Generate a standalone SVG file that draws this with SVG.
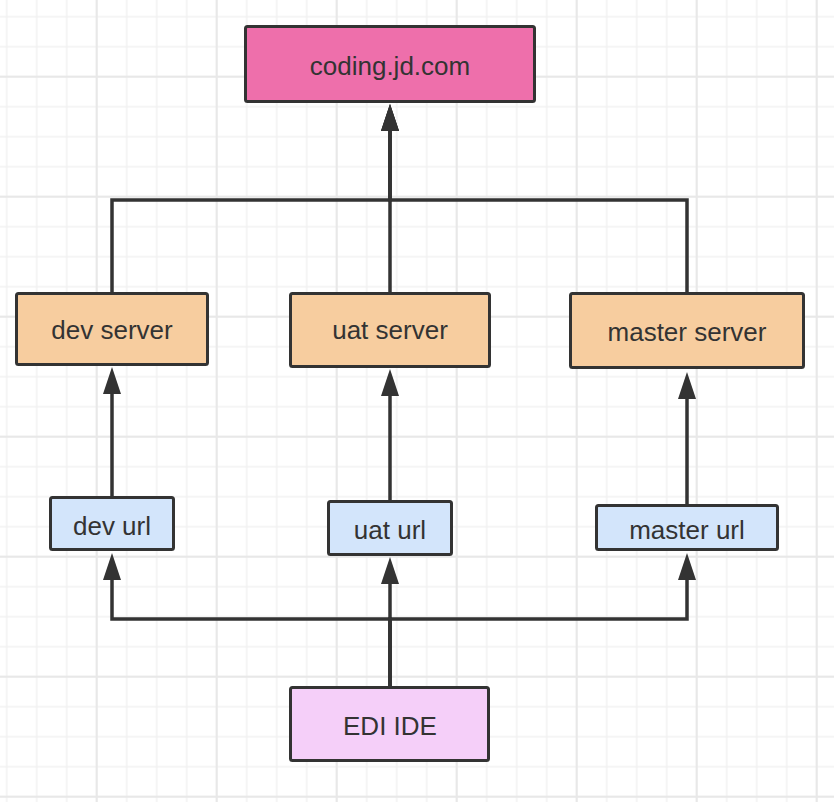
<svg xmlns="http://www.w3.org/2000/svg" width="834" height="802" viewBox="0 0 834 802">
  <style>
    .box { stroke: #333333; stroke-width: 3; }
    .lbl { font-family: "Liberation Sans", Arial, Helvetica, sans-serif; font-size: 26px; fill: #333333; text-anchor: middle; }
    .edge { fill: none; stroke: #333333; stroke-width: 3.5; stroke-linejoin: miter; }
    .c-top { fill: #ee6fab; }
    .c-srv { fill: #f7cd9f; }
    .c-url { fill: #d3e5fb; }
    .c-ide { fill: #f5cff9; }
  </style>
  <defs>
    <pattern id="gridMinor" patternUnits="userSpaceOnUse" x="-8.3" y="1.7" width="30" height="30">
      <path d="M15,0 V30 M0,15 H30" stroke="#f2f2f2" stroke-width="1.5" fill="none"/>
    </pattern>
    <pattern id="gridMajor" patternUnits="userSpaceOnUse" x="36.7" y="16.7" width="120" height="120">
      <path d="M60,0 V120 M0,60 H120" stroke="#e8e8e8" stroke-width="2" fill="none"/>
    </pattern>
    <marker id="arrow" markerUnits="userSpaceOnUse" markerWidth="27" markerHeight="18" refX="0" refY="9" orient="auto" viewBox="0 0 27 18">
      <path d="M0,0 L27,9 L0,18 Z" fill="#333333"/>
    </marker>
  </defs>

  <rect x="0" y="0" width="834" height="802" fill="#ffffff"/>
  <rect x="0" y="0" width="834" height="802" fill="url(#gridMinor)"/>
  <rect x="0" y="0" width="834" height="802" fill="url(#gridMajor)"/>

  <g id="connectors">
    <path class="edge" d="M112,292 V200 H390 V131" marker-end="url(#arrow)"/>
    <path class="edge" d="M390,292 V131" marker-end="url(#arrow)"/>
    <path class="edge" d="M687,292 V200 H390 V131" marker-end="url(#arrow)"/>
    <path class="edge" d="M112,496 V394" marker-end="url(#arrow)"/>
    <path class="edge" d="M390,500 V396" marker-end="url(#arrow)"/>
    <path class="edge" d="M687,504 V399" marker-end="url(#arrow)"/>
    <path class="edge" d="M390,686 V619 H112 V580" marker-end="url(#arrow)"/>
    <path class="edge" d="M390,686 V584" marker-end="url(#arrow)"/>
    <path class="edge" d="M390,686 V619 H687 V580" marker-end="url(#arrow)"/>
  </g>

  <g id="coding">
    <rect class="box c-top" x="245.5" y="26.5" width="289" height="75" rx="2"/>
    <text class="lbl" x="390" y="75">coding.jd.com</text>
  </g>
  <g id="dev-server">
    <rect class="box c-srv" x="16.5" y="293.5" width="191" height="71" rx="2"/>
    <text class="lbl" x="112" y="339">dev server</text>
  </g>
  <g id="uat-server">
    <rect class="box c-srv" x="290.5" y="293.5" width="199" height="73" rx="2"/>
    <text class="lbl" x="390" y="339">uat server</text>
  </g>
  <g id="master-server">
    <rect class="box c-srv" x="570.5" y="293.5" width="233" height="74" rx="2"/>
    <text class="lbl" x="687" y="341">master server</text>
  </g>
  <g id="dev-url">
    <rect class="box c-url" x="50.5" y="497.5" width="123" height="52" rx="2"/>
    <text class="lbl" x="112" y="535">dev url</text>
  </g>
  <g id="uat-url">
    <rect class="box c-url" x="328.5" y="501.5" width="123" height="53" rx="2"/>
    <text class="lbl" x="390" y="539">uat url</text>
  </g>
  <g id="master-url">
    <rect class="box c-url" x="596.5" y="505.5" width="181" height="44" rx="2"/>
    <text class="lbl" x="687" y="539">master url</text>
  </g>
  <g id="edi-ide">
    <rect class="box c-ide" x="290.5" y="687.5" width="198" height="73" rx="2"/>
    <text class="lbl" x="390" y="735">EDI IDE</text>
  </g>
</svg>
